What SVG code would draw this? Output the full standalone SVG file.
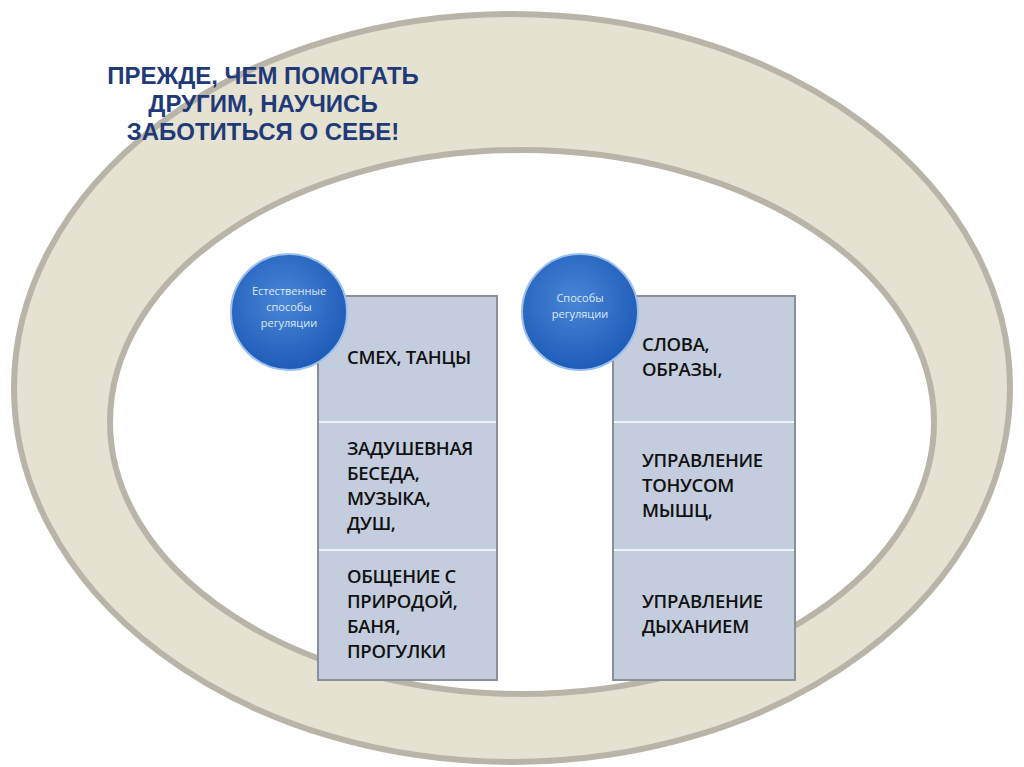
<svg xmlns="http://www.w3.org/2000/svg" width="1024" height="767" viewBox="0 0 1024 767">
<defs>
<style>
.t{font-family:"Open Sans","Liberation Sans",sans-serif;font-size:18.5px;fill:#111;font-weight:600;letter-spacing:-0.3px}
.c{font-family:"Open Sans","Liberation Sans",sans-serif;font-size:11px;fill:#dce8f8;text-anchor:middle}
.h{font-family:"Liberation Sans",Arial,sans-serif;font-size:24px;font-weight:bold;fill:#1f3a78;text-anchor:middle}
.box{fill:#c3cddd;stroke:#8a8f98;stroke-width:2}
.div{stroke:#eef1f6;stroke-width:2}
</style>
<radialGradient id="g" cx="0.45" cy="0.4" r="0.6"><stop offset="0" stop-color="#4a86d6"/><stop offset="1" stop-color="#1e5cb8"/></radialGradient>
</defs>
<rect width="1024" height="767" fill="#fff"/>
<g id="ring">
<path d="M512,14 A498,374 0 1,0 512,762 A498,374 0 1,0 512,14 Z M522,150 A412,272 0 1,1 522,694 A412,272 0 1,1 522,150 Z" fill="#e6e2d2" fill-rule="evenodd" stroke="#b8b4a8" stroke-width="6"/>
</g>
<g id="title">
<text class="h" x="263" y="84">ПРЕЖДЕ, ЧЕМ ПОМОГАТЬ</text>
<text class="h" x="263" y="112">ДРУГИМ, НАУЧИСЬ</text>
<text class="h" x="263" y="140">ЗАБОТИТЬСЯ О СЕБЕ!</text>
</g>
<g id="left-box">
<rect class="box" x="318" y="296" width="179" height="384"/>
<line class="div" x1="319" y1="422" x2="496" y2="422"/>
<line class="div" x1="319" y1="550" x2="496" y2="550"/>
<text class="t" x="347" y="364">СМЕХ, ТАНЦЫ</text>
<text class="t" x="347" y="455">ЗАДУШЕВНАЯ</text>
<text class="t" x="347" y="480">БЕСЕДА,</text>
<text class="t" x="347" y="505">МУЗЫКА,</text>
<text class="t" x="347" y="530">ДУШ,</text>
<text class="t" x="347" y="583">ОБЩЕНИЕ С</text>
<text class="t" x="347" y="608">ПРИРОДОЙ,</text>
<text class="t" x="347" y="633">БАНЯ,</text>
<text class="t" x="347" y="658">ПРОГУЛКИ</text>
</g>
<g id="right-box">
<rect class="box" x="613" y="296" width="182" height="384"/>
<line class="div" x1="614" y1="422" x2="794" y2="422"/>
<line class="div" x1="614" y1="550" x2="794" y2="550"/>
<text class="t" x="642" y="351">СЛОВА,</text>
<text class="t" x="642" y="376">ОБРАЗЫ,</text>
<text class="t" x="642" y="467">УПРАВЛЕНИЕ</text>
<text class="t" x="642" y="492">ТОНУСОМ</text>
<text class="t" x="642" y="517">МЫШЦ,</text>
<text class="t" x="642" y="608">УПРАВЛЕНИЕ</text>
<text class="t" x="642" y="633">ДЫХАНИЕМ</text>
</g>
<g id="left-circle">
<circle cx="289" cy="312" r="58" fill="url(#g)" stroke="#9cc0ee" stroke-width="2"/>
<text class="c" x="289" y="295">Естественные</text>
<text class="c" x="289" y="311">способы</text>
<text class="c" x="289" y="327">регуляции</text>
</g>
<g id="right-circle">
<circle cx="580" cy="312" r="58" fill="url(#g)" stroke="#9cc0ee" stroke-width="2"/>
<text class="c" x="580" y="302">Способы</text>
<text class="c" x="580" y="318">регуляции</text>
</g>
</svg>
